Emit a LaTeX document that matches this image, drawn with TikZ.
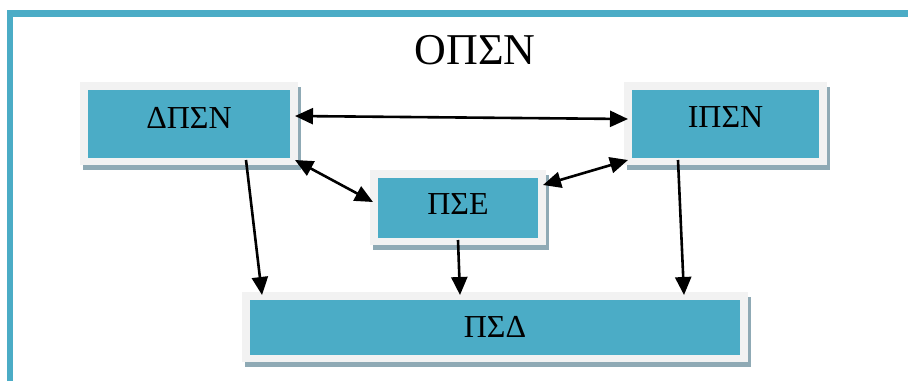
\documentclass[tikz,border=0pt]{standalone}
\usepackage{fontspec}
\setmainfont{Liberation Serif}
\usetikzlibrary{arrows.meta,shadows}

\definecolor{boxteal}{HTML}{4BACC6}
\definecolor{boxrim}{HTML}{F2F2F2}
\definecolor{boxshade}{HTML}{8FAAB5}

\tikzset{
  block/.style={
    fill=boxrim, inner sep=0pt, outer sep=0pt,
    font=\fontsize{32}{36}\selectfont,
    drop shadow={shadow xshift=3pt, shadow yshift=-5pt, fill=boxshade, opacity=1},
    path picture={
      \fill[boxteal]
        ([shift={(8pt,-7.5pt)}]path picture bounding box.north west)
        rectangle
        ([shift={(-8pt,7.5pt)}]path picture bounding box.south east);
    }
  },
  tip/.tip={Triangle[length=18pt,width=16pt]},
  conn/.style={draw=black, line width=2.6pt, arrows={-tip}},
  bothconn/.style={conn, arrows={tip-tip}}
}

\begin{document}
\begin{tikzpicture}[x=1pt,y=-1pt]
  \useasboundingbox (0,0) rectangle (908,381);

  % outer frame: top and left edges only
  \draw[boxteal, line width=6.5pt] (10,381) -- (10,13.5) -- (908,13.5);

  \node (title) at (475,50) {\fontsize{44}{50}\selectfont ΟΠΣΝ};

  \node[block, minimum width=218pt, minimum height=83pt, text depth=12pt]
    (dpsn) at (189,123.5) {ΔΠΣΝ};
  \node[block, minimum width=203pt, minimum height=83pt, text depth=12pt]
    (ipsn) at (725.5,123.5) {ΙΠΣΝ};
  \node[block, minimum width=176pt, minimum height=75pt, text depth=7pt]
    (pse) at (458,207.5) {ΠΣΕ};
  \node[block, minimum width=506pt, minimum height=70pt]
    (psd) at (495,327) {ΠΣΔ};

  % two-way links
  \draw[bothconn] ([shift={(-3,-7.5)}]dpsn.east) -- ([shift={(4,-4.5)}]ipsn.west);
  \draw[bothconn] ([shift={(-3,-5)}]dpsn.south east) -- ([shift={(3,-5.5)}]pse.west);
  \draw[bothconn] ([shift={(4,-5)}]ipsn.south west) -- ([shift={(-3,15)}]pse.north east);

  % links into the bottom block
  \draw[conn] ([shift={(57,-5)}]dpsn.south) -- ([shift={(-233,3)}]psd.north);
  \draw[conn] ([shift={(0,-5)}]pse.south) -- ([shift={(-35,3)}]psd.north);
  \draw[conn] ([shift={(-47.5,-5)}]ipsn.south) -- ([shift={(189,3)}]psd.north);
\end{tikzpicture}
\end{document}
